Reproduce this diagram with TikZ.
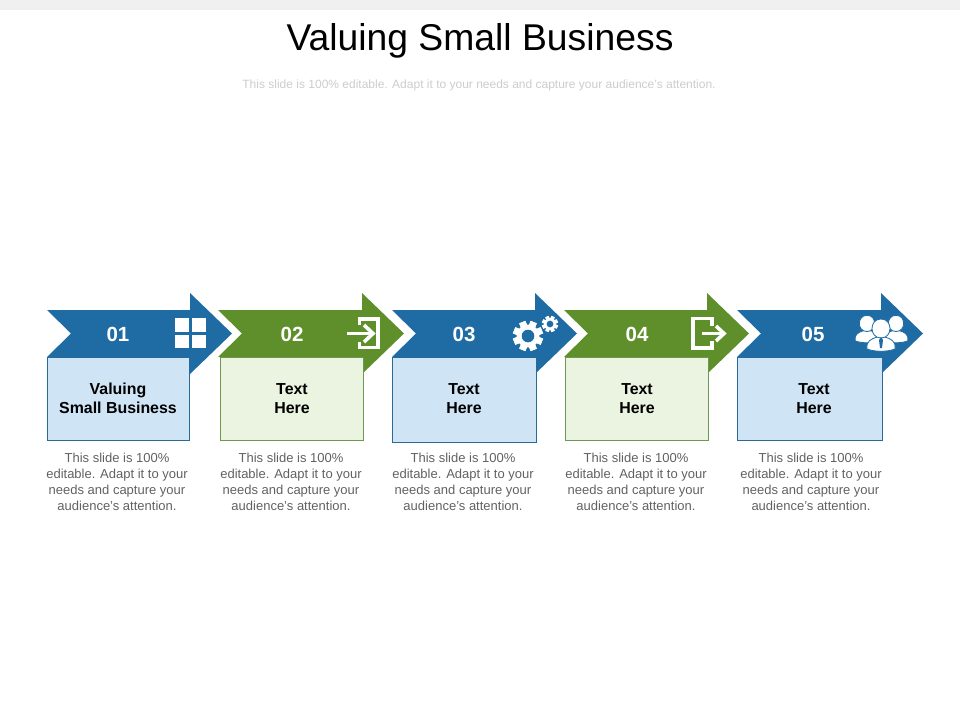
\documentclass[tikz,border=0pt]{standalone}
\usepackage{fontspec}
\setmainfont{Liberation Sans}
\definecolor{blueArrow}{HTML}{1F6CA5}
\definecolor{greenArrow}{HTML}{5F8F2B}
\definecolor{bluePale}{HTML}{CFE5F6}
\definecolor{greenPale}{HTML}{EBF4E0}
\definecolor{blueEdge}{HTML}{2A6A98}
\definecolor{greenEdge}{HTML}{6E9850}
\tikzset{
    stepnum/.style={text=white,font=\fontsize{20.5}{20.5}\selectfont\bfseries},
    steplabel/.style={align=center,text=black,font=\fontsize{15.9}{19}\selectfont\bfseries},
    stepnote/.style={align=center,text=black!62,font=\fontsize{13}{16}\selectfont},
    iconline/.style={draw=white,line width=3.6pt},
    person/.style={fill=white,draw=blueArrow,line width=0.8pt}
}
\newcommand{\gearicon}[3]{%
    \foreach \a in {0,45,...,315}
        \fill[white,shift={(#1,#2)},rotate=\a+22.5] (-0.22*#3,-#3) rectangle (0.22*#3,#3);
    \fill[white] (#1,#2) circle (0.76*#3);
    \fill[blueArrow] (#1,#2) circle (0.42*#3);
}
\newcommand{\personicon}[4]{%
    \draw[person,shift={(#1,#2)},scale=#3] (-14,21) .. controls (-15,13) and (-10,11) .. (-4,9)
        -- (4,9) .. controls (10,11) and (15,13) .. (14,21) .. controls (6,24) and (-6,24) .. (-14,21) -- cycle;
    \draw[person,shift={(#1,#2)},scale=#3] (0,-9) .. controls (-#4,-9) and (-#4,10) .. (0,10)
        .. controls (#4,10) and (#4,-9) .. (0,-9) -- cycle;
}
\begin{document}
\begin{tikzpicture}[x=1pt,y=-1pt]
    \useasboundingbox (0,0) rectangle (960,720);
    \fill[black!6] (0,0) rectangle (960,10);
    \node[text=black,font=\fontsize{37.3}{37.3}\selectfont] (title) at (480,41) {Valuing Small Business};
    \node[text=black!20,font=\fontsize{12}{12}\selectfont] (subtitle) at (479,85) {This slide is 100\% editable. Adapt it to your needs and capture your audience's attention.};
    % arrows and boxes
    \foreach \i/\lx/\hx/\bx/\rx/\by/\main/\pale/\edge/\nx/\tx/\cx/\lbl in {
        1/47/190/47/189/440/blueArrow/bluePale/blueEdge/118/118/117/{Valuing\\Small Business},
        2/218/362/220/363/440/greenArrow/greenPale/greenEdge/292/292/291/{Text\\Here},
        3/392/535/392/536/442/blueArrow/bluePale/blueEdge/464/464/463/{Text\\Here},
        4/564/707/565/708/440/greenArrow/greenPale/greenEdge/637/637/636/{Text\\Here},
        5/737/881/737/882/440/blueArrow/bluePale/blueEdge/813/814/811/{Text\\Here}} {
        \fill[\main] (\lx,310) -- (\hx,310) -- (\hx,293) -- (\hx+42,333.5) -- (\hx,374) -- (\hx,357)
            -- (\lx,357) -- (\lx+24,333.5) -- cycle;
        \draw[fill=\pale,draw=\edge,line width=0.9pt] (\bx,357) rectangle (\rx,\by);
        \node[stepnum] (num\i) at (\nx,334) {0\i};
        \node[steplabel] (label\i) at (\tx,398.5) {\lbl};
        \node[stepnote] (note\i) at (\cx,482) {This slide is 100\%\\editable. Adapt it to your\\needs and capture your\\audience's attention.};
    }
    % grid icon
    \fill[white] (175,318) rectangle (189,332);
    \fill[white] (192,318) rectangle (206,332);
    \fill[white] (175,335) rectangle (189,348);
    \fill[white] (192,335) rectangle (206,348);
    % enter icon
    \draw[iconline] (359.5,325) -- (359.5,319) -- (378,319) -- (378,347.5) -- (359.5,347.5) -- (359.5,342);
    \draw[iconline] (347,333.5) -- (373,333.5);
    \draw[iconline] (364,325) -- (373,333.5) -- (364,342);
    % gears
    \gearicon{528}{336}{15}
    \gearicon{550}{324}{8}
    % exit icon
    \draw[iconline] (712,326) -- (712,318.5) -- (693,318.5) -- (693,348) -- (712,348) -- (712,341);
    \draw[iconline] (702,333.5) -- (724,333.5);
    \draw[iconline] (716,326) -- (724,333.5) -- (716,341);
    % people icon
    \personicon{867}{323}{0.85}{12}
    \personicon{896}{323}{0.85}{12}
    \personicon{881}{328}{1}{12}
    \fill[blueArrow] (881,337) -- (883,340) -- (882,348) -- (880,348) -- (879,340) -- cycle;
\end{tikzpicture}
\end{document}
